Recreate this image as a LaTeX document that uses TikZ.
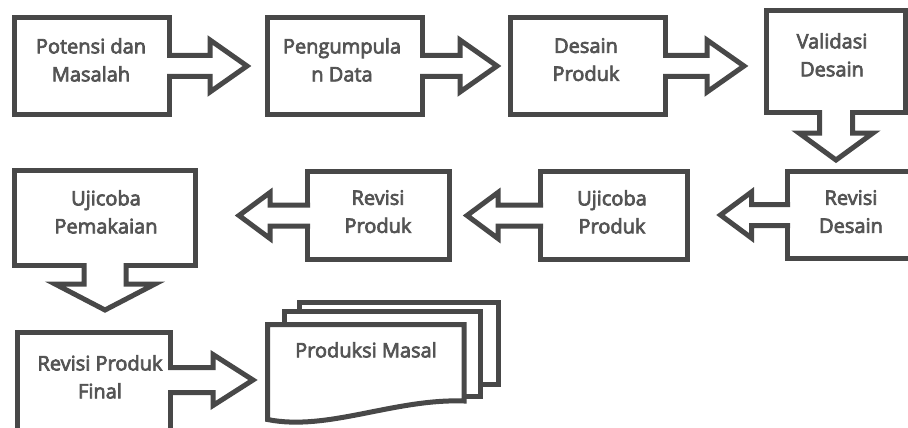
\documentclass[tikz,border=0pt]{standalone}
\usepackage{fontspec}
\setmainfont{Open Sans}
\font\medfnt="Open Sans:embolden=3.5" at 20pt
\usetikzlibrary{calc}
\definecolor{lc}{RGB}{72,72,72}
\definecolor{tc}{RGB}{84,84,84}
\tikzset{
  stepbox/.style={draw=lc, line width=5pt, fill=white, rectangle, inner sep=0pt, outer sep=0pt, line join=miter},
  txt/.style={font=\fontsize{20}{28}\selectfont\medfnt, text=tc, align=center, inner sep=0pt, anchor=north},
  arrline/.style={draw=lc, line width=5pt, line join=miter, line cap=butt},
  docline/.style={draw=lc, line width=5pt, fill=white, line join=miter}
}
% #1 start point, #2 tip point, #3 shaft half width, #4 head half width, #5 head length
\newcommand\blockarrow[5]{%
  \coordinate (ba-s) at ($(#1)!-2.5pt!(#2)$);
  \coordinate (ba-h) at ($(#2)!#5pt!(#1)$);
  \coordinate (ba-1) at ($(ba-s)!#3pt!90:(#2)$);
  \coordinate (ba-2) at ($(ba-h)!#3pt!90:(#2)$);
  \coordinate (ba-3) at ($(ba-h)!#4pt!90:(#2)$);
  \coordinate (ba-4) at ($(ba-h)!#4pt!-90:(#2)$);
  \coordinate (ba-5) at ($(ba-h)!#3pt!-90:(#2)$);
  \coordinate (ba-6) at ($(ba-s)!#3pt!-90:(#2)$);
  \fill[white] (ba-1) -- (ba-2) -- (ba-3) -- (#2) -- (ba-4) -- (ba-5) -- (ba-6) -- cycle;
  \draw[arrline] (ba-1) -- (ba-2) -- (ba-3) -- (#2) -- (ba-4) -- (ba-5) -- (ba-6);
}
\begin{document}
\begin{tikzpicture}[x=1pt,y=-1pt]
\useasboundingbox (0,0) rectangle (908,428);
\clip (0,0) rectangle (908,428);
\fill[white] (0,0) rectangle (908,428);

% boxes
\node[stepbox, minimum width=155, minimum height=97] (b1) at (92,66) {};
\node[stepbox, minimum width=155, minimum height=97] (b2) at (345,66) {};
\node[stepbox, minimum width=155, minimum height=97] (b3) at (588,66) {};
\node[stepbox, minimum width=139, minimum height=102] (b4) at (836,61.5) {};
\node[stepbox, minimum width=142.5, minimum height=87] (b5) at (858.75,215) {};
\node[stepbox, minimum width=147, minimum height=88] (b6) at (614,215.5) {};
\node[stepbox, minimum width=142, minimum height=88] (b7) at (378.5,215.5) {};
\node[stepbox, minimum width=181, minimum height=95] (b8) at (105,218) {};
\node[stepbox, minimum width=153, minimum height=105] (b9) at (94,385) {};

% multi-document
\node[inner sep=0pt, outer sep=0pt, minimum width=196.5, minimum height=95] (b10) at (365.75,372) {};
\draw[docline] ($(b10.north west)+(32,-22.5)$) rectangle ($(b10.north east)+(34,59.5)$);
\draw[docline] ($(b10.north west)+(17,-13)$) rectangle ($(b10.north east)+(16,71.5)$);
\draw[docline] (b10.north west) -- (b10.north east) -- ($(b10.north east)+(0,76.5)$)
   .. controls ($(b10.north east)+(-70,74)$) and ($(b10.south west)+(60,12)$) .. (b10.south west) -- cycle;

% connectors
\coordinate (t12) at ($(b1.east -| b2.west)+(-20.5,0)$);
\blockarrow{b1.east}{t12}{10.5}{26}{37}
\coordinate (t23) at ($(b2.east -| b3.west)+(-13.5,0)$);
\blockarrow{b2.east}{t23}{10.5}{26}{37}
\coordinate (t34) at ($(b3.east -| b4.west)+(-22.5,0)$);
\blockarrow{b3.east}{t34}{10.5}{26}{37}
\coordinate (t45) at ($(b4.south -| b4.south)+(0,47.5)$);
\blockarrow{b4.south}{t45}{16.5}{37}{27}
\coordinate (t56) at ($(b5.west -| b6.east)+(33,0)$);
\blockarrow{b5.west}{t56}{10.5}{23}{31}
\coordinate (t67) at ($(b6.west -| b7.east)+(17.5,0)$);
\blockarrow{b6.west}{t67}{10.5}{23}{31}
\coordinate (t78) at ($(b7.west -| b8.east)+(43.5,0)$);
\blockarrow{b7.west}{t78}{10.5}{23}{31}
\coordinate (t89) at ($(b8.south)+(0,44.5)$);
\blockarrow{b8.south}{t89}{21}{50}{26}
\coordinate (s910) at ($(b9.north east)+(0,47.5)$);
\coordinate (t910) at ($(s910 -| b10.west)+(-14.5,0)$);
\blockarrow{s910}{t910}{12.5}{25.5}{40}

% texts
\node[txt] (x1) at (91,38) {Potensi dan\\Masalah};
\node[txt] (x2) at (342,38) {Pengumpula\\n Data};
\node[txt] (x3) at (586,38) {Desain\\Produk};
\node[txt] (x4) at (832,33) {Validasi\\Desain};
\node[txt] (x5) at (851,190) {Revisi\\Desain};
\node[txt] (x6) at (612,190) {Ujicoba\\Produk};
\node[txt] (x7) at (378,190) {Revisi\\Produk};
\node[txt] (x8) at (106,190) {Ujicoba\\Pemakaian};
\node[txt] (x9) at (100,355) {Revisi Produk\\Final};
\node[txt] (x10) at (366,342) {Produksi Masal};
\end{tikzpicture}
\end{document}
